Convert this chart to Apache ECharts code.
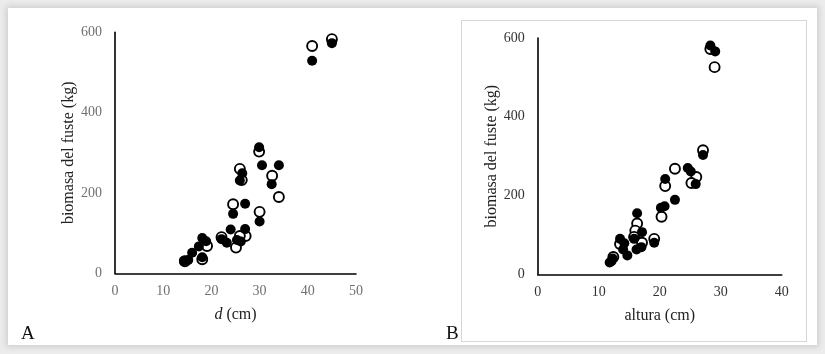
<!DOCTYPE html>
<html>
<head>
<meta charset="utf-8">
<script src="https://cdn.jsdelivr.net/npm/echarts@6/dist/echarts.min.js"></script>
<style>
  html, body { margin: 0; padding: 0; background: #ffffff; }
  #wrap { position: relative; width: 825px; height: 354px; overflow: hidden; background: #ececec; }
  #frame { position: absolute; left: 8px; top: 8px; width: 809px; height: 337px; background: #fff;
           box-shadow: 0 0 6px 2px rgba(0,0,0,0.13); }
  #boxB { position: absolute; left: 461px; top: 20px; width: 344px; height: 320px; border: 1px solid #d6d6d6; }
  #chart { position: absolute; left: 0; top: 0; width: 825px; height: 354px; }
</style>
</head>
<body>
<div id="wrap">
  <div id="frame"></div>
  <div id="boxB"></div>
  <div id="chart"></div>
</div>
<script>
// Panel A: d (cm) vs biomasa del fuste (kg)
const dFilled = [40.9, 45.0, 29.9, 30.5, 34.0, 26.4, 25.9, 32.5, 27.0, 24.5, 30.0, 24.0, 27.0, 22.1, 23.2, 25.3, 26.1, 18.1, 18.9, 17.4, 18.1, 16.0, 14.3, 15.2];
const bioAFilled = [529, 573, 314, 269, 269, 249, 231, 222, 173, 148, 129, 109, 110, 85, 76, 83, 79, 88, 80, 67, 40, 51, 31, 33];
const dOpen = [40.9, 45.0, 29.9, 25.9, 26.3, 32.6, 34.0, 24.5, 30.0, 22.1, 27.1, 25.9, 25.1, 19.1, 18.1, 14.5];
const bioAOpen = [566, 583, 303, 260, 232, 243, 190, 172, 153, 90, 93, 93, 64, 68, 35, 30];

// Panel B: altura (cm) vs biomasa del fuste (kg)
const hFilled = [28.3, 29.1, 27.1, 24.6, 25.1, 25.9, 20.9, 22.5, 20.2, 20.8, 16.3, 17.1, 15.8, 13.5, 14.2, 14.0, 14.7, 16.2, 17.0, 19.1, 12.3, 11.8, 12.1];
const bioBFilled = [581, 566, 303, 270, 261, 229, 242, 189, 169, 173, 155, 107, 90, 90, 79, 63, 48, 63, 69, 80, 40, 30, 33];
const hOpen = [28.3, 29.0, 27.1, 22.5, 26.0, 25.2, 20.9, 20.3, 16.3, 16.0, 17.1, 19.1, 13.5, 15.8, 12.4];
const bioBOpen = [572, 526, 315, 268, 247, 232, 224, 146, 129, 111, 80, 90, 77, 95, 44];

const xTicksA = [0, 10, 20, 30, 40, 50];
const xTicksB = [0, 10, 20, 30, 40];
const yTicks = [0, 200, 400, 600];

function pairs(xs, ys) { return xs.map((x, i) => [x, ys[i]]); }

const serif = '"Liberation Serif", "DejaVu Serif", serif';
const axisLine = { show: true, lineStyle: { color: '#000', width: 1.6 } };

function xAxis(gi, max, name, labelColor) {
  return {
    type: 'value', gridIndex: gi, min: 0, max: max, interval: 10,
    axisLine: axisLine, axisTick: { show: false }, splitLine: { show: false },
    axisLabel: { color: labelColor, fontFamily: serif, fontSize: 14, margin: 11 },
    name: name, nameLocation: 'middle', nameGap: 33,
    nameTextStyle: { color: '#222', fontFamily: serif, fontSize: 16,
      rich: { i: { fontStyle: 'italic', color: '#222', fontFamily: serif, fontSize: 16 } } }
  };
}
function yAxis(gi, labelColor, gap) {
  return {
    type: 'value', gridIndex: gi, min: 0, max: 600, interval: 200,
    axisLine: axisLine, axisTick: { show: false }, splitLine: { show: false },
    axisLabel: { color: labelColor, fontFamily: serif, fontSize: 14, margin: 13 },
    name: 'biomasa del fuste (kg)', nameLocation: 'middle', nameGap: gap, nameRotate: 90,
    nameTextStyle: { color: '#222', fontFamily: serif, fontSize: 16 }
  };
}

const openStyle = { color: '#fff', borderColor: '#000', borderWidth: 1.9, opacity: 1 };
const filledStyle = { color: '#000', opacity: 1 };

const chart = echarts.init(document.getElementById('chart'), null, { renderer: 'canvas' });
chart.setOption({
  animation: false,
  backgroundColor: 'transparent',
  grid: [
    { left: 115, top: 32.3, width: 241, height: 241 },
    { left: 537.7, top: 38, width: 244, height: 236.3 }
  ],
  xAxis: [
    xAxis(0, 50, '{i|d} (cm)', '#707070'),
    xAxis(1, 40, 'altura (cm)', '#333')
  ],
  yAxis: [
    yAxis(0, '#707070', 38),
    yAxis(1, '#333', 38)
  ],
  series: [
    { type: 'scatter', xAxisIndex: 0, yAxisIndex: 0, symbolSize: 10, data: pairs(dOpen, bioAOpen), itemStyle: openStyle },
    { type: 'scatter', xAxisIndex: 0, yAxisIndex: 0, symbolSize: 10, data: pairs(dFilled, bioAFilled), itemStyle: filledStyle },
    { type: 'scatter', xAxisIndex: 1, yAxisIndex: 1, symbolSize: 10, data: pairs(hOpen, bioBOpen), itemStyle: openStyle },
    { type: 'scatter', xAxisIndex: 1, yAxisIndex: 1, symbolSize: 10, data: pairs(hFilled, bioBFilled), itemStyle: filledStyle }
  ],
  graphic: [
    { type: 'text', left: 21, top: 325, style: { text: 'A', fill: '#111', font: '19px ' + serif } },
    { type: 'text', left: 446, top: 325, style: { text: 'B', fill: '#111', font: '19px ' + serif } }
  ]
});
</script>
</body>
</html>
